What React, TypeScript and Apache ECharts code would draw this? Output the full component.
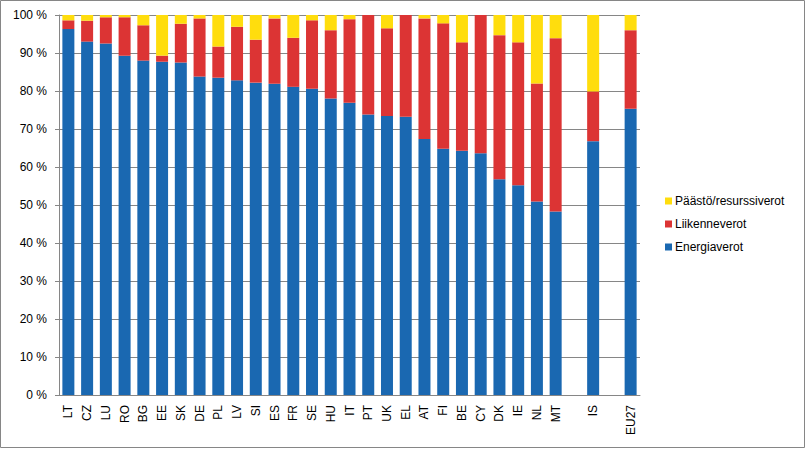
import React, { useEffect, useRef } from "react";
import * as echarts from "echarts";

const categories = ["LT","CZ","LU","RO","BG","EE","SK","DE","PL","LV","SI","ES","FR","SE","HU","IT","PT","UK","EL","AT","FI","BE","CY","DK","IE","NL","MT","","IS","","EU27"];
const energiaverot = [96.3,93.0,92.5,89.3,88.0,87.7,87.5,83.8,83.5,82.8,82.2,81.9,81.1,80.6,78.0,76.9,73.8,73.4,73.2,67.4,64.8,64.3,63.6,56.8,55.2,50.9,48.3,null,66.8,null,75.3];
const liikenneverot = [2.3,5.5,6.9,10.1,9.3,1.6,10.2,15.3,8.2,14.1,11.3,17.2,12.9,18.0,18.0,22.0,26.2,23.1,26.8,31.7,33.0,28.5,36.4,37.9,37.6,31.1,45.6,null,13.1,null,20.7];
const paastoverot = [1.4,1.5,0.6,0.6,2.7,10.7,2.3,0.9,8.3,3.1,6.5,0.9,6.0,1.4,4.0,1.1,0,3.5,0,0.9,2.2,7.2,0,5.3,7.2,18.0,6.1,null,20.1,null,4.0];
const yTicks = [0,10,20,30,40,50,60,70,80,90,100];

export default function App() {
  const ref = useRef<HTMLDivElement>(null);
  useEffect(() => {
    if (!ref.current) return;
    const chart = echarts.init(ref.current, null, { renderer: "svg" });
    const font = "'Liberation Sans', Arial, sans-serif";
    const mk = (name: string, data: (number | null)[], color: string) => ({
      name,
      type: "bar",
      stack: "total",
      data,
      barCategoryGap: "36%",
      itemStyle: { color },
    });
    chart.setOption({
      animation: false,
      graphic: [
        {
          type: "rect",
          shape: { x: 0.5, y: 0.5, width: 804, height: 447 },
          style: { fill: "none", stroke: "#868686", lineWidth: 1 },
          silent: true,
        },
      ],
      grid: { left: 59, right: 167, top: 15, bottom: 54 },
      legend: {
        orient: "vertical",
        left: 660,
        top: 189,
        itemWidth: 7,
        itemHeight: 7,
        itemGap: 9,
        icon: "rect",
        data: ["Päästö/resurssiverot", "Liikenneverot", "Energiaverot"],
        textStyle: { fontFamily: font, fontSize: 12, color: "#000", lineHeight: 14, padding: [0, 0, 0, -2] },
      },
      xAxis: {
        type: "category",
        data: categories,
        axisLine: { lineStyle: { color: "#868686", width: 1 } },
        axisTick: { show: false },
        axisLabel: { rotate: 90, interval: 0, fontFamily: font, fontSize: 12, color: "#000", margin: 10 },
      },
      yAxis: {
        type: "value",
        min: 0,
        max: 100,
        interval: 10,
        axisLine: { show: true, lineStyle: { color: "#868686", width: 1 } },
        axisTick: { show: true, length: 4, lineStyle: { color: "#868686" } },
        splitLine: { lineStyle: { color: "#868686", width: 1 } },
        axisLabel: {
          fontFamily: font,
          fontSize: 12,
          color: "#000",
          margin: 12,
          formatter: (v: number) => (yTicks.includes(v) ? v + " %" : ""),
        },
      },
      series: [
        mk("Energiaverot", energiaverot, "#1A68B1"),
        mk("Liikenneverot", liikenneverot, "#DC3434"),
        mk("Päästö/resurssiverot", paastoverot, "#FFDD0D"),
      ],
    });
    return () => chart.dispose();
  }, []);
  return (
    <div
      ref={ref}
      style={{ position: "fixed", left: 0, top: 0, width: 807, height: 449, background: "#fff" }}
    />
  );
}
